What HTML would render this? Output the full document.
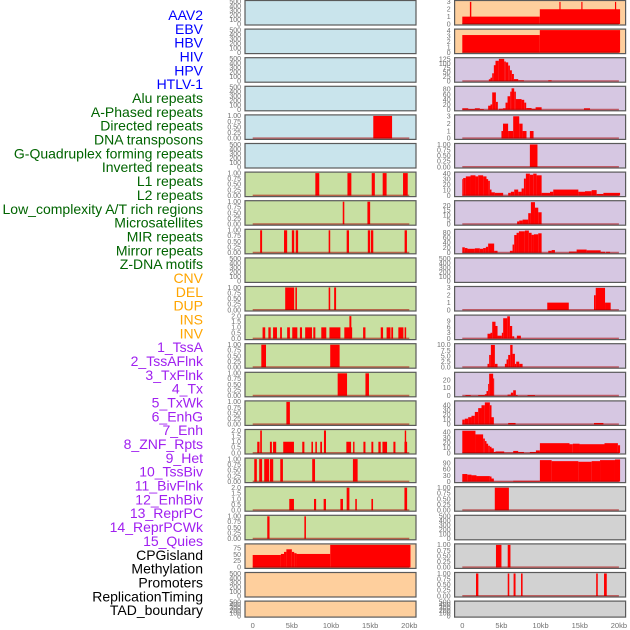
<!DOCTYPE html>
<html><head><meta charset="utf-8"><style>
html,body{margin:0;padding:0;background:#fff;}
svg{display:block;font-family:"Liberation Sans",sans-serif;}
</style></head><body>
<svg id="chart" width="630" height="630" viewBox="0 0 630 630"></svg>
<script>
// ---------- data ----------
const trackLabels = ["AAV2","EBV","HBV","HIV","HPV","HTLV-1","Alu repeats","A-Phased repeats","Directed repeats","DNA transposons","G-Quadruplex forming repeats","Inverted repeats","L1 repeats","L2 repeats","Low_complexity A/T rich regions","Microsatellites","MIR repeats","Mirror repeats","Z-DNA motifs","CNV","DEL","DUP","INS","INV","1_TssA","2_TssAFlnk","3_TxFlnk","4_Tx","5_TxWk","6_EnhG","7_Enh","8_ZNF_Rpts","9_Het","10_TssBiv","11_BivFlnk","12_EnhBiv","13_ReprPC","14_ReprPCWk","15_Quies","CPGisland","Methylation","Promoters","ReplicationTiming","TAD_boundary"];
const labelGroups = ["virus","virus","virus","virus","virus","virus","repeat","repeat","repeat","repeat","repeat","repeat","repeat","repeat","repeat","repeat","repeat","repeat","repeat","sv","sv","sv","sv","sv","chrom","chrom","chrom","chrom","chrom","chrom","chrom","chrom","chrom","chrom","chrom","chrom","chrom","chrom","chrom","other","other","other","other","other"];
const xTickValues = [0,5,10,15,20];
const xTickLabels = ["0","5kb","10kb","15kb","20kb"];

// y tick sets
const ticksEmpty = ["0","100","200","300","400","500"]; const ticksEmptyVals=[0,100,200,300,400,500];
const ticksUnit = ["0.00","0.25","0.50","0.75","1.00"]; const ticksUnitVals=[0,0.25,0.5,0.75,1];
const ticksTwo = ["0.0","0.5","1.0","1.5","2.0"]; const ticksTwoVals=[0,0.5,1,1.5,2];

// segments: [startKb, endKb, value]
const bars_HPV = [[15.4,17.8,1]];
const bars_Alu = [[8.0,8.5,1],[12.1,12.6,1],[15.2,15.6,1],[16.6,17.1,1],[19.2,19.8,1]];
const bars_APhased = [[11.5,11.7,1],[14.65,15.0,1]];
const bars_Directed = [[0.95,1.2,1],[4.0,4.4,1],[5.0,5.3,1],[5.5,5.8,1],[9.7,9.9,1],[12.0,12.3,1],[14.7,15.0,1],[15.1,15.4,1],[19.4,19.7,1]];
const bars_GQuad = [[4.15,5.3,1],[5.45,5.65,1],[9.7,9.9,1],[10.4,10.65,1]];
const bars_Inverted = [[1.26,1.6,1],[2.0,2.3,1],[2.6,3.1,1],[3.5,3.73,1],[4.4,4.75,1],[5.05,5.7,1],[6.03,6.3,1],[6.7,7.57,1],[7.74,8.0,1],[8.76,9.4,1],[9.8,11.2,1],[11.7,12.7,1],[12.35,12.6,2],[14.1,14.4,1],[16.35,16.65,1],[17.1,17.6,1],[17.7,17.93,1],[18.6,19.25,1],[19.4,19.6,1]];
const bars_L1 = [[1.1,1.7,1],[9.9,11.1,1]];
const bars_L2 = [[10.85,12.05,1],[14.4,14.85,1]];
const bars_LowComp = [[4.3,4.75,1]];
const bars_Micro = [[0.58,0.87,1],[0.96,1.17,2],[2.2,2.45,1],[2.6,3.0,1],[3.9,5.27,1],[6.33,6.6,1],[7.5,7.7,1],[8.0,8.2,1],[8.63,8.85,1],[9.1,9.36,2],[11.96,12.56,1],[12.82,13.0,1],[14.14,14.4,1],[15.16,15.4,1],[16.05,16.35,1],[16.57,17.16,1],[17.97,18.23,1],[19.38,19.72,1],[19.42,19.6,2]];
const bars_MIR = [[0.2,0.53,1],[0.83,1.2,1],[1.47,2.1,1],[2.2,2.62,1],[3.52,3.86,1],[7.6,7.96,1],[12.8,13.4,1]];
const bars_Mirror = [[4.67,5.27,1],[7.83,8.1,1],[9.06,9.36,1],[11.2,11.53,1],[12.0,12.35,2],[13.1,13.3,1],[15.16,15.37,1],[19.38,19.72,2]];
const bars_ZDNA = [[1.86,2.15,1],[6.6,6.8,1]];
const bars_CNV = [[0,3.6,48],[3.6,4.0,52],[4.0,4.3,60],[4.3,5.0,70],[5.0,5.3,60],[5.3,5.6,55],[5.6,9.9,52],[9.9,20.15,87]];
const bars_INS = [[0,9.9,1],[9.9,20.15,2],[0.97,1.15,3],[12.4,12.55,3],[15.2,15.35,3],[19.5,19.65,3]];
const bars_INV = [[0,9.9,3.2],[9.9,20.15,4.1]];
const bars_TssA = [[3.39,3.6,11],[3.6,3.82,20],[3.82,4.03,45],[4.03,4.24,91],[4.24,4.67,116],[4.67,5.35,127],[5.35,5.56,112],[5.56,5.86,107],[5.86,6.08,89],[6.08,6.33,62],[6.33,6.59,41],[6.59,7.14,12],[7.14,7.87,5],[10.98,11.41,5]];
const bars_TssAFlnk = [[0,0.76,6],[0.76,1.6,3],[1.6,2.24,6],[2.24,2.75,3],[3.3,3.6,16],[3.6,3.82,21],[3.82,4.29,68],[4.29,4.54,31],[4.67,5.18,4],[5.18,5.52,6],[5.52,5.78,28],[5.78,6.12,53],[6.12,6.29,71],[6.29,6.63,84],[6.63,6.84,71],[6.84,7.57,42],[7.57,7.91,39],[7.91,8.16,28],[8.16,8.85,7],[8.85,9.36,4],[9.36,10.13,10],[15.54,16.31,6]];
const bars_TxFlnk = [[5.0,5.2,1],[5.2,5.85,2],[5.85,6.5,1],[6.5,7.27,3],[7.27,7.7,2],[7.7,8.2,1],[8.63,9.1,1]];
const bars_Tx = [[8.63,9.6,1]];
const bars_TxWk = [[0,0.11,30],[0.11,0.45,32],[0.45,1.05,35],[1.05,1.68,37],[1.68,2.03,35],[2.03,2.66,37],[2.66,3.09,35],[3.09,3.3,30],[3.3,3.52,27],[3.52,3.73,11],[3.73,4.16,6],[4.16,5.22,5],[5.86,6.2,5],[6.2,6.63,7],[6.63,7.14,11],[7.14,7.57,7],[7.57,7.87,13],[7.87,8.12,31],[8.12,8.63,40],[8.63,9.06,38],[9.06,9.49,40],[9.49,10.13,37],[10.13,11.2,5],[11.2,11.62,7],[11.62,14.82,11],[14.82,15.67,7],[15.67,16.52,8],[16.52,17.16,10],[17.16,18.02,3],[18.02,20.15,5]];
const bars_EnhG = [[7.0,7.27,3],[7.27,7.7,4],[7.7,8.42,5],[8.42,8.76,12],[8.76,9.28,24],[9.28,9.7,18],[9.7,10.13,13]];
const bars_Enh = [[0,0.32,22],[0.32,0.66,19],[0.66,1.6,16],[1.6,2.24,18],[2.24,2.66,16],[2.66,3.01,19],[3.01,3.3,24],[3.3,4.07,37],[4.07,4.5,8],[6.08,6.42,8],[6.42,6.63,33],[6.63,6.93,71],[6.93,7.23,80],[7.23,7.99,86],[7.99,8.5,89],[8.5,8.85,80],[8.85,9.15,72],[9.15,9.7,74],[9.7,10.13,78],[10.98,11.41,8],[11.41,11.83,11],[13.62,14.6,5],[14.6,15.88,13],[15.88,16.95,10],[16.95,17.67,10],[17.67,18.23,4],[18.36,18.87,4]];
const bars_Het = [[10.85,13.6,1],[16.82,17.04,2],[17.04,18.23,3],[18.23,18.95,1]];
const bars_TssBiv = [[3.22,3.6,2.5],[3.6,3.82,3],[3.82,4.24,8.7],[4.24,4.5,6.5],[4.5,5.05,1.5],[5.05,5.22,3],[5.22,5.74,10.5],[5.74,6.08,11.5],[6.08,6.37,6.5],[6.37,6.63,1.2],[6.97,7.48,1.5]];
const bars_BivFlnk = [[3.22,3.43,1.5],[3.43,3.65,5.5],[3.65,4.16,10],[4.16,4.5,1.5],[5.44,5.65,1.5],[5.65,5.86,3.5],[5.86,6.12,5.5],[6.12,6.42,10],[6.42,6.72,6],[6.72,6.89,1.5],[6.89,7.27,2.5],[7.27,7.7,1.5]];
const bars_EnhBiv = [[0.4,1.08,1],[2.03,2.88,1],[2.88,3.09,2],[3.09,3.3,6],[3.3,3.43,15],[3.43,3.94,28],[3.94,4.07,22],[5.78,6.2,1.5],[6.2,6.5,4],[6.5,6.84,7],[6.84,7.06,1],[8.33,9.28,1]];
const bars_ReprPC = [[0,0.32,10],[0.32,0.75,12],[0.75,1.17,15],[1.17,1.6,18],[1.6,2.03,26],[2.03,2.45,34],[2.45,2.88,40],[2.88,3.52,46],[3.52,3.73,40],[3.73,4.03,15],[5.86,6.8,3],[16.82,18.02,3]];
const bars_ReprPCWk = [[0,1.68,43],[1.68,2.66,36],[2.66,2.88,28],[2.88,3.09,23],[3.09,3.3,18],[3.3,3.52,14],[3.52,3.73,12],[3.73,4.03,9],[4.03,4.24,2],[4.24,5.35,3],[5.35,6.5,0.5],[6.5,7.14,4],[7.14,7.87,2],[8.63,9.4,2],[9.4,9.91,5],[9.91,13.69,19],[13.69,14.11,17],[14.11,14.97,18],[14.97,18.16,17],[18.16,19.87,19],[19.87,20.15,15]];
const bars_Quies = [[0,0.64,37],[0.64,1.17,34],[1.17,1.81,31],[1.81,3.52,27],[3.52,3.73,25],[3.73,4.03,15],[4.03,6.5,1],[6.5,9.91,4],[9.91,11.41,105],[11.41,14.82,100],[14.82,16.52,97],[16.52,17.59,100],[17.59,19.5,105],[19.5,20.15,108]];
const bars_CPG = [[4.15,5.95,1]];
const bars_Promoters = [[4.3,5.0,1],[5.8,6.15,1]];
const bars_RepTiming = [[1.75,2.05,1],[5.8,6.0,1],[6.55,6.8,1],[7.5,7.7,1],[17.1,17.3,1],[18.1,18.45,1]];

// panel definitions: [name, column, row, group, ymax, tickLabels, tickValues, bars]
const panels = [
 ["AAV2",0,0,"virus",500,ticksEmpty,ticksEmptyVals,null],
 ["EBV",0,1,"virus",500,ticksEmpty,ticksEmptyVals,null],
 ["HBV",0,2,"virus",500,ticksEmpty,ticksEmptyVals,null],
 ["HIV",0,3,"virus",500,ticksEmpty,ticksEmptyVals,null],
 ["HPV",0,4,"virus",1,ticksUnit,ticksUnitVals,bars_HPV],
 ["HTLV-1",0,5,"virus",500,ticksEmpty,ticksEmptyVals,null],
 ["Alu",0,6,"repeat",1,ticksUnit,ticksUnitVals,bars_Alu],
 ["A-Phased",0,7,"repeat",1,ticksUnit,ticksUnitVals,bars_APhased],
 ["Directed",0,8,"repeat",1,ticksUnit,ticksUnitVals,bars_Directed],
 ["DNA-transposons",0,9,"repeat",500,ticksEmpty,ticksEmptyVals,null],
 ["G-Quadruplex",0,10,"repeat",1,ticksUnit,ticksUnitVals,bars_GQuad],
 ["Inverted",0,11,"repeat",2,ticksTwo,ticksTwoVals,bars_Inverted],
 ["L1",0,12,"repeat",1,ticksUnit,ticksUnitVals,bars_L1],
 ["L2",0,13,"repeat",1,ticksUnit,ticksUnitVals,bars_L2],
 ["Low-complexity",0,14,"repeat",1,ticksUnit,ticksUnitVals,bars_LowComp],
 ["Microsatellites",0,15,"repeat",2,ticksTwo,ticksTwoVals,bars_Micro],
 ["MIR",0,16,"repeat",1,ticksUnit,ticksUnitVals,bars_MIR],
 ["Mirror",0,17,"repeat",2,ticksTwo,ticksTwoVals,bars_Mirror],
 ["Z-DNA",0,18,"repeat",1,ticksUnit,ticksUnitVals,bars_ZDNA],
 ["CNV",0,19,"sv",87,["0","25","50","75"],[0,25,50,75],bars_CNV],
 ["DEL",0,20,"sv",500,ticksEmpty,ticksEmptyVals,null],
 ["DUP",0,21,"sv",500,ticksEmpty,ticksEmptyVals,null],
 ["INS",1,0,"sv",3.05,["0","1","2","3"],[0,1,2,3],bars_INS],
 ["INV",1,1,"sv",4.1,["0","1","2","3","4"],[0,1,2,3,4],bars_INV],
 ["1_TssA",1,2,"chrom",128,["0","25","50","75","100","125"],[0,25,50,75,100,125],bars_TssA],
 ["2_TssAFlnk",1,3,"chrom",88,["0","20","40","60","80"],[0,20,40,60,80],bars_TssAFlnk],
 ["3_TxFlnk",1,4,"chrom",3.05,["0","1","2","3"],[0,1,2,3],bars_TxFlnk],
 ["4_Tx",1,5,"chrom",1,ticksUnit,ticksUnitVals,bars_Tx],
 ["5_TxWk",1,6,"chrom",41,["0","10","20","30","40"],[0,10,20,30,40],bars_TxWk],
 ["6_EnhG",1,7,"chrom",24.5,["0","5","10","15","20"],[0,5,10,15,20],bars_EnhG],
 ["7_Enh",1,8,"chrom",90,["0","20","40","60","80"],[0,20,40,60,80],bars_Enh],
 ["8_ZNF_Rpts",1,9,"chrom",500,ticksEmpty,ticksEmptyVals,null],
 ["9_Het",1,10,"chrom",3.05,["0","1","2","3"],[0,1,2,3],bars_Het],
 ["10_TssBiv",1,11,"chrom",11.6,["0","3","6","9"],[0,3,6,9],bars_TssBiv],
 ["11_BivFlnk",1,12,"chrom",10.1,["0.0","2.5","5.0","7.5","10.0"],[0,2.5,5,7.5,10],bars_BivFlnk],
 ["12_EnhBiv",1,13,"chrom",28.5,["0","10","20"],[0,10,20],bars_EnhBiv],
 ["13_ReprPC",1,14,"chrom",47,["0","10","20","30","40"],[0,10,20,30,40],bars_ReprPC],
 ["14_ReprPCWk",1,15,"chrom",43.5,["0","10","20","30","40"],[0,10,20,30,40],bars_ReprPCWk],
 ["15_Quies",1,16,"chrom",110,["0","30","60","90"],[0,30,60,90],bars_Quies],
 ["CPGisland",1,17,"other",1,ticksUnit,ticksUnitVals,bars_CPG],
 ["Methylation",1,18,"other",500,ticksEmpty,ticksEmptyVals,null],
 ["Promoters",1,19,"other",1,ticksUnit,ticksUnitVals,bars_Promoters],
 ["ReplicationTiming",1,20,"other",1,ticksUnit,ticksUnitVals,bars_RepTiming],
 ["TAD_boundary",1,21,"other",500,ticksEmpty,ticksEmptyVals,null]
];

// ---------- drawing ----------
const NS="http://www.w3.org/2000/svg";
const svg=document.getElementById("chart");
const bgColors={virus:"#c9e4ec",repeat:"#c8e0a2",sv:"#fecf9d",chrom:"#d6c7e2",other:"#d2d2d2"};
const labelColors={virus:"#0000ff",repeat:"#006400",sv:"#ffa500",chrom:"#a020f0",other:"#000000"};
const colX0=[252.7,462.3];
const kbPx=7.83;
function xScale(col,kb){return colX0[col]+kb*kbPx;}
function panelTop(row){return row*28.6+0.5;}
function panelH(row){return row===21?16:24.5;}
function yScale(row,ymax,v){const t=panelTop(row)+1,b=panelTop(row)+panelH(row)-1;return b-(v/ymax)*(b-t);}
function mk(tag,attrs){const e=document.createElementNS(NS,tag);for(const k in attrs)e.setAttribute(k,attrs[k]);return e;}

// labels
trackLabels.forEach((lab,i)=>{
  const t=mk("text",{x:203,y:15+i*13.84,"text-anchor":"end","dominant-baseline":"central","font-size":"14",fill:labelColors[labelGroups[i]]});
  
  
  t.textContent=lab;
  svg.appendChild(t);
});

panels.forEach(p=>{
  const [name,col,row,group,ymax,tl,tv,bars]=p;
  const g=mk("g",{});
  
  
  const left=colX0[col]-7.7, top=panelTop(row), h=panelH(row), w=171;
  const bg=mk("rect",{x:left,y:top,width:w,height:h,fill:bgColors[group]});
  
  
  g.appendChild(bg);
  if(bars){
    bars.forEach(s=>{
      const x1=xScale(col,s[0]),x2=xScale(col,s[1]);
      const y=yScale(row,ymax,s[2]),y0=yScale(row,ymax,0);
      const r=mk("rect",{x:x1,y:y,width:Math.max(0.8,x2-x1),height:Math.max(0,y0-y),fill:"#ff0000"});
      
      
      g.appendChild(r);
    });
    const y0=yScale(row,ymax,0);
    const bl=mk("line",{x1:xScale(col,0),x2:xScale(col,20),y1:y0,y2:y0,stroke:"rgba(170,0,0,0.55)","stroke-width":2});
    
    
    g.appendChild(bl);
  }
  const br=mk("rect",{x:left,y:top,width:w,height:h,fill:"none",stroke:"#5a5a5a","stroke-width":1.2});
  
  
  g.appendChild(br);
  tv.forEach((v,i)=>{
    const t=mk("text",{x:left-4,y:yScale(row,ymax,v)+2.3,"text-anchor":"end","font-size":"7",fill:"#707070"});
    
    
    t.textContent=tl[i];
    g.appendChild(t);
  });
  svg.appendChild(g);
});

// x-axis tick labels
[0,1].forEach(col=>{
  xTickValues.forEach((v,i)=>{
    const t=mk("text",{x:xScale(col,v),y:628,"text-anchor":"middle","font-size":"7.5",fill:"#707070"});
    
    
    t.textContent=xTickLabels[i];
    svg.appendChild(t);
  });
});
</script>
</body></html>
